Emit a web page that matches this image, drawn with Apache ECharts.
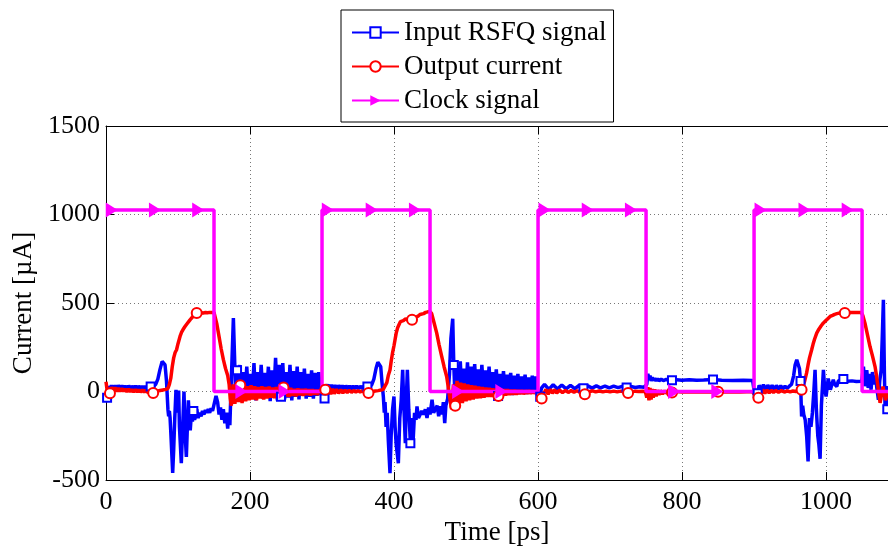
<!DOCTYPE html>
<html>
<head>
<meta charset="utf-8">
<script src="https://cdn.jsdelivr.net/npm/echarts@6/dist/echarts.min.js"></script>
<style>
  html, body { margin: 0; padding: 0; background: #fff; }
  #chart { width: 888px; height: 548px; }
</style>
</head>
<body>
<div id="chart"></div>
<script>
// Simulated RSFQ cell waveforms: [time in ps, current in µA]
const inputSignal = [
  [0,-40],[1.5,-35],[3,30],[5.5,8],[7.5,35],[10,10],[12.5,35],[15,10],[17,35],[19.5,12],[22,34],[24.5,12],
  [26.5,33],[29,12],[31.5,33],[34,13],[36,32],[38.5,13],[41,32],[43.5,14],[45.5,31],[48,14],[50.5,30],[53,15],
  [55,30],[57.5,16],[60,30],[62,28],[64,24],[66.5,28],[69,40],[72,70],[75,125],[78,170],[80,178],[82,150],
  [84,60],[86,-100],[87,-140],[88,-110],[89,-150],[90,-230],[92.6,-460],[94,-330],[95.5,-150],[97.2,10],
  [98.5,-120],[99.5,-60],[100.9,5],[102,-200],[104.6,-405],[106,-250],[108.3,0],[110,-250],[111.6,-370],
  [113,-200],[114.4,-50],[116,-180],[117,-220],[118.5,-130],[120,-170],[121.3,-110],[123,-160],[124.5,-140],
  [126,-100],[128,-150],[130,-120],[132,-140],[134,-110],[136,-130],[138,-105],[140,-120],[142,-100],
  [144,-120],[146,-95],[148,-110],[150,-100],[152.8,-25],[155,-60],[157,-130],[159,-90],[161,-160],
  [163,-100],[165,-180],[167,-120],[169,-210],[170.5,-120],[172,-190],[174,60],[176.9,415],[178.5,200],
  [180,-30],[182,120],[184,-20],[186,150],[188,-40],[190.5,110],[193,-30],[195.5,140],[198,-45],[200.5,100],
  [203,-20],[205.5,160],[208,-50],[210.5,110],[213,-25],[215.5,150],[218,-40],[220.5,105],[223,-30],
  [225.5,140],[228,-55],[230.5,120],[233,-20],[235.5,190],[238,-50],[240.5,150],[243,-30],[245.5,160],
  [248,-45],[250.5,110],[253,-35],[255.5,150],[258,-50],[260.5,115],[263,-30],[265.5,140],[268,-45],
  [270.5,110],[273,-25],[275.5,130],[278,-40],[280.5,100],[283,-30],[285.5,120],[288,-40],[290.5,105],
  [293,-25],[295.5,110],[298,-20],[299.5,40],[301,-45],[303.5,-40],[306,20],[308,40],[310.5,8],[313,38],
  [315.5,10],[318,36],[320.5,10],[323,35],[325.5,12],[328,34],[330.5,12],[333,33],[335.5,14],[338,32],
  [340.5,14],[343,32],[345.5,15],[348,31],[350.5,16],[353,30],[355.5,17],[358,30],[361,22],[363,28],
  [366,26],[369,38],[372,70],[375,130],[377.5,165],[379.6,175],[381.5,140],[383.3,50],[385.2,-30],
  [386.5,-120],[387.5,-60],[389,-200],[390.5,-120],[392,-270],[394.4,-462],[396,-250],[398,-100],
  [399.9,-28],[401.5,-200],[403,-300],[406,-405],[408,-150],[410,-47],[412,122],[413.8,-100],[415.7,-292],
  [417,-50],[418.5,122],[420.5,-100],[422.7,-292],[424.5,-150],[426.5,-280],[428.5,-120],[430.5,-160],
  [431.9,-84],[434,-150],[436.6,-141],[438.5,-110],[441,-130],[443.5,-100],[445.8,-150],[448,-90],
  [450,-130],[452.8,-47],[455,-120],[457.4,-120],[460,-80],[462,-140],[464.4,-84],[466.5,-130],[468.5,-60],
  [470.4,-179],[472,-80],[474.5,-40],[477,100],[479,300],[481.5,411],[483,150],[484.7,-30],[487,150],
  [489.5,-20],[492,170],[494.5,-35],[497,130],[499.5,-25],[502,165],[504.5,-40],[507,140],[509.5,-20],
  [512,155],[514.5,-35],[517,125],[519.5,-25],[522,150],[524.5,-30],[527,120],[529.5,-20],[532,140],
  [534.5,-30],[537,110],[539.5,-15],[542,125],[544.5,-25],[547,100],[549.5,-15],[552,115],[554.5,-20],
  [557,95],[559.5,-10],[562,105],[564.5,-20],[567,90],[569.5,-10],[572,100],[574.5,-15],[577,85],
  [579.5,-5],[582,95],[584.5,-15],[587,80],[589.5,-5],[592,90],[594.5,-10],[597,85],[599,-20],[601,-38],
  [603,-30],[605,20],[609,40],[615,12],[621,38],[627,14],[633,37],[639,15],[645,35],[651,16],[657,34],
  [663,18],[669,33],[675,19],[681,32],[687,20],[693,31],[699,21],[705,30],[711,22],[717,29],[723,23],
  [729,28],[735,23],[741,27],[747,24],[749.5,25],[751,40],[752.5,100],[754,70],[755.5,90],[757,60],
  [758.5,80],[760,62],[762,75],[764,60],[766,72],[768,60],[771,70],[774,62],[778,68],[782,66],[786,63],
  [792,67],[800,64],[810,66],[820,63],[830,65],[843,68],[855,64],[870,62],[885,63],[898,62],[899.5,20],
  [901,-25],[903,-28],[905,-10],[907,35],[910,8],[913,38],[916,10],[919,36],[922,12],[925,35],[928,12],
  [931,34],[934,14],[937,32],[940,15],[943,30],[946,18],[949,30],[952,40],[955,90],[957,150],[959.3,179],
  [961,170],[963,130],[964.5,60],[966,-141],[967.5,-80],[969,-130],[971,-160],[973,-250],[975,-395],
  [977,-150],[979,-200],[981,-120],[983,0],[984.7,122],[986.5,-100],[988.5,-250],[990,-300],[991.7,-380],
  [993.5,-80],[996.3,122],[998,20],[1000,-28],[1003,73],[1006,10],[1010,66],[1012,40],[1014.8,28],
  [1017,60],[1019.4,62],[1024,70],[1030,58],[1036,60],[1042,57],[1049.5,58],[1051.9,140],[1054,30],
  [1056.5,120],[1058.5,20],[1060.5,100],[1062.5,10],[1064.5,110],[1066.5,40],[1068.5,90],[1070.5,20],
  [1072.7,-47],[1074.5,60],[1076.5,120],[1078,300],[1079.6,518],[1081,100],[1082,-104],[1083.5,30],
  [1085,-100],[1086,-90]
];

const outputCurrent = [
  [0,55],[1.5,10],[3.5,-35],[5.5,-10],[7.5,25],[10,0],[12.5,22],[15,0],[17,20],[19.5,0],[22,18],[24.5,0],
  [26.5,15],[29,-2],[31.5,14],[34,-2],[36,12],[38.5,-3],[41,12],[43.5,-3],[45.5,10],[48,-3],[50.5,9],
  [53,-4],[55,8],[57.5,-4],[60,6],[62.5,-6],[65.5,-8],[68,-3],[71,2],[75,6],[79,9],[83,12],[86,18],[88,40],
  [90,75],[92,140],[94,190],[96,220],[98,236],[100,270],[102.8,311],[105,335],[107,350],[109.7,367],
  [112,380],[114,390],[116.7,405],[119,415],[121,425],[123,432],[126,443],[129,438],[132,445],[135,443],
  [138,446],[141,445],[144,447],[147,447],[150,447],[151.4,440],[154,380],[157,310],[160,240],[163,180],
  [166,130],[169,90],[171,40],[172.5,-40],[174,-80],[176.5,40],[179,-70],[181.5,45],[184,-60],[186.5,35],
  [189,-65],[191.5,40],[194,-55],[196.5,30],[199,-50],[201.5,35],[204,-45],[206.5,30],[209,-50],[211.5,25],
  [214,-40],[216.5,30],[219,-45],[221.5,25],[224,-40],[226.5,28],[229,-35],[231.5,22],[234,-38],[236.5,25],
  [239,-30],[241.5,20],[244,-35],[246.5,22],[249,-28],[251.5,18],[254,-30],[256.5,20],[259,-25],[261.5,15],
  [264,-28],[266.5,18],[269,-22],[271.5,14],[274,-25],[276.5,15],[279,-20],[281.5,12],[284,-22],[286.5,12],
  [289,-18],[291.5,10],[294,-20],[296.5,10],[299,-15],[301,10],[302.5,-45],[304.5,10],[307,-25],[309.5,18],
  [312,-15],[314.5,15],[317,-12],[320,12],[323,-10],[326,10],[329,-8],[332,8],[335,-6],[338,8],[341,-5],
  [344,6],[347,-4],[350,5],[353,-3],[356,4],[359,-5],[362,-10],[364.5,-8],[367,-4],[370,0],[374,3],[378,5],
  [382,8],[385,12],[387.5,20],[390,50],[392,90],[394.4,122],[396,170],[398,220],[400,260],[401.4,292],
  [403,330],[405,360],[407,378],[409,395],[410.6,405],[413,400],[416,410],[419,404],[422,410],[425,405],
  [427,407],[430,418],[433,425],[436,435],[438.4,443],[441,440],[444,447],[447,450],[450,452],[452.3,440],
  [455.5,390],[459.3,330],[462.5,265],[466.2,198],[469.5,140],[473.1,85],[475.5,20],[477.8,-47],[480,-100],
  [482.5,40],[485,-80],[487.5,60],[490,-70],[492.5,50],[495,-65],[497.5,45],[500,-55],[502.5,40],[505,-50],
  [507.5,35],[510,-45],[512.5,32],[515,-40],[517.5,28],[520,-38],[522.5,25],[525,-35],[527.5,22],[530,-30],
  [532.5,20],[535,-30],[537.5,18],[540,-28],[542.5,15],[545,-25],[547.5,15],[550,-22],[552.5,12],[555,-22],
  [557.5,12],[560,-20],[562.5,10],[565,-18],[567.5,10],[570,-18],[572.5,8],[575,-15],[577.5,8],[580,-15],
  [582.5,6],[585,-12],[587.5,6],[590,-12],[592.5,5],[595,-10],[598,0],[600,-20],[602,-45],[605,-40],
  [608,-10],[611,12],[614,-15],[617,12],[620,-10],[623,10],[626,-8],[630,8],[634,-6],[638,6],[642,-5],
  [646,5],[650,-4],[654,4],[658,-4],[662,-10],[665,-15],[668,-10],[672,0],[676,4],[680,-2],[685,3],
  [690,-2],[695,2],[700,-2],[705,2],[710,-2],[715,2],[720,-3],[725,-8],[730,-2],[735,2],[740,0],[745,1],
  [749,0],[751,-35],[752.5,25],[754,-50],[755.5,20],[757,-45],[758.5,15],[760,-35],[762,12],[764,-28],
  [766,8],[768,-20],[770,6],[773,-14],[776,4],[779,-10],[782,2],[786,-6],[790,0],[800,-3],[810,-1],
  [820,-3],[830,-1],[840,-3],[850,-2],[860,-3],[870,-1],[880,-3],[890,-2],[898,-2],[900,-15],[903,-38],
  [906,-36],[909,-15],[912,10],[915,-10],[918,8],[921,-8],[924,7],[927,-6],[930,6],[934,-4],[938,5],
  [942,-3],[946,4],[950,-2],[954,3],[958,0],[962,5],[966,10],[968,20],[970,55],[973,105],[975,150],
  [977,190],[980,236],[982,268],[984,295],[987,330],[990,352],[993,370],[996,386],[999,398],[1002,410],
  [1005.6,424],[1009,430],[1012,436],[1015,440],[1019,443],[1023,445],[1026,444],[1030,446],[1035,447],
  [1040,447],[1045,447],[1049,447],[1051,430],[1054,386],[1057.5,320],[1061,254],[1064.5,200],[1068,141],
  [1070,90],[1072,28],[1073.5,-20],[1075,-64],[1077,-20],[1079,28],[1081,-10],[1082.5,-50],[1084,-28],
  [1086,-10]
];

const clockSignal = [
  [0,1025],[8,1025],[68,1025],[128,1025],[150,1025],[150,0],[188,0],[248,0],[300,0],[300,1025],
  [308,1025],[369,1025],[429,1025],[450,1025],[450,0],[489,0],[549,0],[600,0],[600,1025],[609,1025],
  [669,1025],[729,1025],[750,1025],[750,0],[789,0],[849,0],[900,0],[900,1025],[909,1025],[970,1025],
  [1030,1025],[1050,1025],[1050,0],[1086,0]
];

const seriesNames = ['Input RSFQ signal', 'Output current', 'Clock signal'];
const xTicks = { min: 0, max: 1086, step: 200 };
const yTicks = { min: -500, max: 1500, step: 500 };

// Markers are shown on a sparse subset of samples (every ~60 ps), the rest are plain line.
function withMarkers(samples, start, step) {
  const marked = new Set();
  const last = samples[samples.length - 1][0];
  for (let t = start; t <= last; t += step) {
    let best = 0;
    for (let i = 1; i < samples.length; i++) {
      if (Math.abs(samples[i][0] - t) < Math.abs(samples[best][0] - t)) best = i;
    }
    marked.add(best);
  }
  return samples.map((p, i) => marked.has(i) ? { value: p } : { value: p, symbol: 'none' });
}

const FONT = 'Liberation Serif, Times New Roman, serif';
const plainNumber = v => String(v);
const chart = echarts.init(document.getElementById('chart'), null, { renderer: 'canvas' });

const gridLine = { show: true, lineStyle: { color: '#777', width: 1, type: [1, 3] } };
const LINE_W = 3.5;

chart.setOption({
  animation: false,
  backgroundColor: '#fff',
  textStyle: { fontFamily: FONT },
  grid: { left: 106, top: 126, right: 0, bottom: 68, containLabel: false, outerBoundsMode: 'none' },
  legend: {
    data: seriesNames,
    orient: 'vertical',
    left: 341,
    top: 10,
    padding: [9, 7, 8, 10],
    itemGap: 7,
    itemWidth: 47,
    itemHeight: 13,
    backgroundColor: '#fff',
    borderColor: '#000',
    borderWidth: 1,
    textStyle: { fontFamily: FONT, fontSize: 27, color: '#000', lineHeight: 27 }
  },
  xAxis: [{
    type: 'value',
    position: 'bottom',
    min: xTicks.min, max: xTicks.max, interval: xTicks.step,
    name: 'Time [ps]',
    nameLocation: 'middle',
    nameGap: 35,
    nameTextStyle: { fontFamily: FONT, fontSize: 27, color: '#000' },
    axisLine: { show: true, onZero: false, lineStyle: { color: '#000', width: 1 } },
    axisTick: { show: true, inside: true, length: 8, lineStyle: { color: '#000' } },
    axisLabel: { fontFamily: FONT, fontSize: 26, color: '#000', margin: 9, showMaxLabel: false, formatter: plainNumber },
    splitLine: gridLine
  }, {
    type: 'value',
    position: 'top',
    min: xTicks.min, max: xTicks.max, interval: xTicks.step,
    axisLine: { show: true, onZero: false, lineStyle: { color: '#000', width: 1 } },
    axisTick: { show: true, inside: true, length: 8, lineStyle: { color: '#000' } },
    axisLabel: { show: false },
    splitLine: { show: false }
  }],
  yAxis: {
    type: 'value',
    min: yTicks.min, max: yTicks.max, interval: yTicks.step,
    name: 'Current [µA]',
    nameLocation: 'middle',
    nameGap: 62,
    nameTextStyle: { fontFamily: FONT, fontSize: 27, color: '#000' },
    axisLine: { show: true, onZero: false, lineStyle: { color: '#000', width: 1 } },
    axisTick: { show: true, inside: true, length: 8, lineStyle: { color: '#000' } },
    axisLabel: { fontFamily: FONT, fontSize: 26, color: '#000', margin: 6, formatter: plainNumber },
    splitLine: gridLine
  },
  series: [{
    name: seriesNames[0],
    type: 'line',
    data: withMarkers(inputSignal, 1.5, 60.2),
    symbol: 'emptyRect',
    symbolSize: 8,
    showSymbol: true,
    lineStyle: { color: '#0000ff', width: LINE_W },
    itemStyle: { color: '#0000ff', borderWidth: 2 },
    emphasis: { disabled: true }
  }, {
    name: seriesNames[1],
    type: 'line',
    data: withMarkers(outputCurrent, 5, 60.1),
    symbol: 'emptyCircle',
    symbolSize: 10,
    showSymbol: true,
    lineStyle: { color: '#ff0000', width: LINE_W },
    itemStyle: { color: '#ff0000', borderWidth: 2 },
    emphasis: { disabled: true }
  }, {
    name: seriesNames[2],
    type: 'line',
    data: withMarkers(clockSignal, 8, 60.1),
    symbol: 'triangle',
    symbolRotate: -90,
    symbolSize: [15, 12],
    showSymbol: true,
    lineStyle: { color: '#ff00ff', width: LINE_W },
    itemStyle: { color: '#ff00ff' },
    emphasis: { disabled: true }
  }]
});
</script>
</body>
</html>
